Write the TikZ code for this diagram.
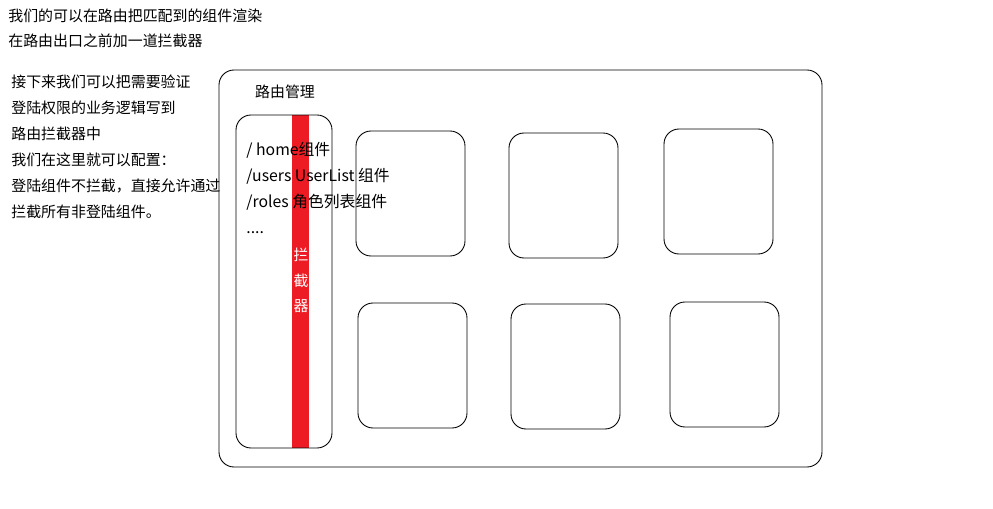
\documentclass[tikz,border=0pt]{standalone}
\usepackage{fontspec}
\setmainfont{Noto Sans CJK SC}
\usepackage{tikz}

\definecolor{barred}{HTML}{ED1C24}

\begin{document}
\begin{tikzpicture}[x=0.02cm, y=-0.02cm,
	every node/.style={font=\fontsize{8.5}{10}\selectfont, inner sep=0pt},
	txt/.style={anchor=west},
	route/.style={anchor=west, font=\fontsize{9}{10}\selectfont},
	pane/.style={draw, rounded corners=0.3cm, line width=0.5pt}]
	\useasboundingbox (0,0) rectangle (993,509);
	% notes at the top
	\node[txt] (top1) at (8,16) {我们的可以在路由把匹配到的组件渲染};
	\node[txt] (top2) at (8,41) {在路由出口之前加一道拦截器};
	% notes on the left
	\foreach \t [count=\i from 0] in {接下来我们可以把需要验证, 登陆权限的业务逻辑写到, 路由拦截器中, 我们在这里就可以配置：, 登陆组件不拦截，直接允许通过, 拦截所有非登陆组件。} {
		\node[txt] (note\i) at (11,82+\i*26) {\t};
	}
	% router frame
	\draw[pane] (219,70) rectangle (822,467);
	\node (title) at (285,92) {路由管理};
	% router outlet with the guard bar
	\fill[barred] (292,115) rectangle (309,448);
	\draw[pane] (236,115) rectangle (332,448);
	\node[route] (home) at (246,150) {/ home组件};
	\node[route] (users) at (246,176) {/users UserList 组件};
	\node[route] (roles) at (246,202) {/roles 角色列表组件};
	\node[route, yshift=-2.5pt] (more) at (246,228) {....};
	\foreach \c [count=\i from 0] in {拦,截,器} {
		\node[white] (guard\i) at (301,255+\i*25.5) {\c};
	}
	% component boxes
	\foreach \x/\y [count=\i] in {356/131, 509/133, 664/129, 358/303, 511/304, 670/302} {
		\draw[pane] (\x,\y) rectangle ++(109,125);
	}
\end{tikzpicture}
\end{document}
